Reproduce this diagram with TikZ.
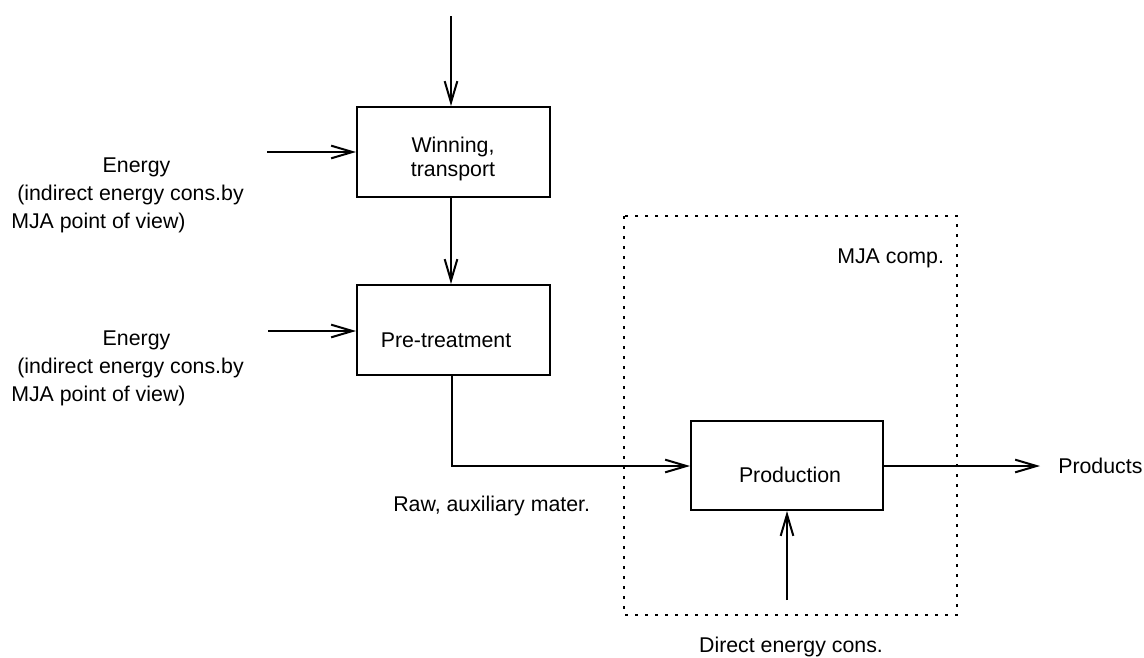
\documentclass[tikz,border=0pt]{standalone}
\usepackage{fontspec}
\setmainfont{Liberation Sans}
\usetikzlibrary{arrows.meta}
\begin{document}
\begin{tikzpicture}[x=0.75pt,y=-0.75pt,
  conn/.style={line width=1.5pt},
  arr/.style={conn, -{Straight Barb[length=16pt,width=9.5pt,line width=1.5pt]}},
  box/.style={draw, line width=1.5pt, minimum width=144.75pt, minimum height=67.5pt, inner sep=0pt},
  txt/.style={font=\fontsize{16}{18}\selectfont, inner sep=0pt},
  dotbox/.style={line width=2pt, dash pattern=on 2.5pt off 5pt},
]
\useasboundingbox (0,0) rectangle (1144,657);

% dotted company boundary
\draw[dotbox] (624,216) rectangle (957,615);

% boxes
\node[box] (win) at (453.5,152) {};
\node[box] (pre) at (453.5,330) {};
\node[box, minimum width=144pt, minimum height=66.75pt] (prod) at (787,465.5) {};

% box texts
\node[txt, anchor=base, align=center] (wint) at (453,176) {Winning,\\transport};
\node[txt, anchor=base] (pret) at (446,347) {Pre-treatment};
\node[txt, anchor=base] (prodt) at (790,482) {Production};

% free ends
\coordinate (topin) at (451,16);
\coordinate (e1s) at (267,152);
\coordinate (e2s) at (268,331);
\coordinate (bend) at (452,466);
\coordinate (prodout) at (1040,466);
\coordinate (dirs) at (787,600);

% connectors
\draw[arr] (topin) -- (topin |- win.north);
\draw[arr] (e1s) -- (e1s -| win.west);
\draw[arr] (win.south -| topin) -- (pre.north -| topin);
\draw[arr] (e2s) -- (e2s -| pre.west);
\draw[arr] (pre.south -| bend) -- (bend) -- (bend -| prod.west);
\draw[arr] (bend -| prod.east) -- (prodout);
\draw[arr] (dirs) -- (dirs |- prod.south);

% labels
\node[txt, anchor=base] (e1a) at (136.5,172) {Energy};
\node[txt, anchor=base west] (e1b) at (17,200) {(indirect energy cons.by};
\node[txt, anchor=base west] (e1c) at (11,228) {MJA point of view)};
\node[txt, anchor=base] (e2a) at (136.5,345) {Energy};
\node[txt, anchor=base west] (e2b) at (17,373) {(indirect energy cons.by};
\node[txt, anchor=base west] (e2c) at (11,401) {MJA point of view)};
\node[txt, anchor=base west] (raw) at (393,511) {Raw, auxiliary mater.};
\node[txt, anchor=base west] (mja) at (837,263) {MJA comp.};
\node[txt, anchor=base west] (prods) at (1058,473) {Products};
\node[txt, anchor=base] (dir) at (791,652) {Direct energy cons.};
\end{tikzpicture}
\end{document}
